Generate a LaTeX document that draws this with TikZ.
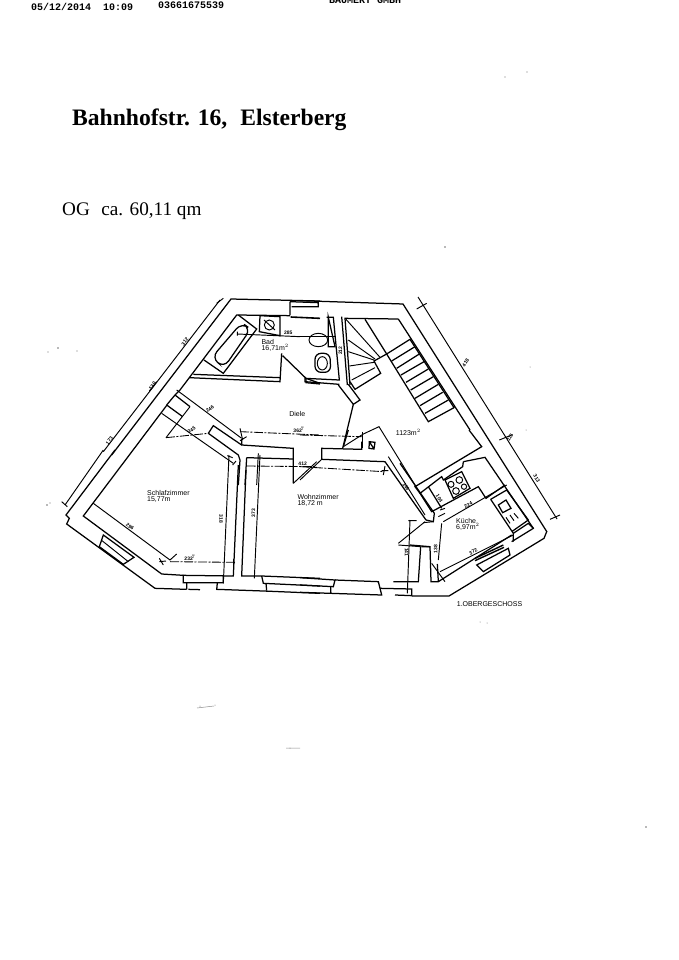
\documentclass[tikz,border=0pt]{standalone}
\usepackage{fontspec}
\setmainfont{Liberation Serif}
\setsansfont{Liberation Sans}
\setmonofont{Liberation Mono}
\tikzset{
 wall/.style={line width=1.25pt,line join=miter},
 thin line/.style={line width=0.95pt},
 dimline/.style={line width=0.85pt,dash pattern=on 9pt off 1.5pt on 2pt off 1.5pt},
 za/.style={shift={(60,285)},x=0.33333pt,y=-0.33333pt},
 zb/.style={shift={(300,285)},x=0.33333pt,y=-0.33333pt},
 zc/.style={shift={(60,450)},x=0.33333pt,y=-0.33333pt},
 zd/.style={shift={(300,450)},x=0.33333pt,y=-0.33333pt},
 ze/.style={shift={(400,430)},x=0.33333pt,y=-0.33333pt},
 zf/.style={shift={(150,385)},x=0.33333pt,y=-0.33333pt},
 zg/.style={shift={(300,430)},x=0.33333pt,y=-0.33333pt},
 lab/.style={inner sep=0pt,font=\sffamily\fontsize{7}{7.5}\selectfont,align=left},
 tiny/.style={inner sep=0pt,font=\sffamily\bfseries\fontsize{5}{5}\selectfont},
 hdr/.style={anchor=west,inner sep=0pt,font=\ttfamily\bfseries\fontsize{10}{11}\selectfont},
 speck/.style={fill=black!55,draw=none}
}
\begin{document}
\begin{tikzpicture}[x=1pt,y=-1pt]
\useasboundingbox (0,0) rectangle (679,960);
\clip (0,0) rectangle (679,960);
\fill[white] (0,0) rectangle (679,960);
% header and titles
\node[hdr] (hdate) at (31,7) {05/12/2014};
\node[hdr] (htime) at (103,7) {10:09};
\node[hdr] (hfax) at (158,5) {03661675539};
\node[hdr] (hfirm) at (329,0) {BAUMERT GMBH};
\node[anchor=base west,inner sep=0pt,font=\bfseries\fontsize{23.6}{26}\selectfont] (title) at (72,126) {Bahnhofstr. 16,\hspace{0.3em} Elsterberg};
\node[anchor=base west,inner sep=0pt,font=\fontsize{19.2}{24}\selectfont] (og) at (62,215) {OG\hspace{0.35em} ca. 60,11 qm};
% long outer walls and dimension lines on the right
\draw[wall] (403,304)--(547,532);
\draw[thin line] (418,297)--(557,519);
% ---------- Bad and upper left
\begin{scope}[za]
\draw[wall] (780,48) -- (513,42) -- (155,510);
\draw[thin line] (480,45) -- (130,500);
\draw[thin line] (470,55)--(490,40) (268,318)--(290,290);
\draw[wall] (690,50)--(690,90) (690,50)--(775,53)--(775,65)--(695,65);
\draw[line width=1.6pt] (692,96)--(780,100);
\draw[wall] (690,92)--(530,90)--(360,315)--(345,330);
\draw[wall] (535,90)--(590,132)--(490,265)--(432,225);
\draw[wall,rounded corners=8pt] (545,113)--(572,132)--(492,248)--(455,218)--cycle;
\draw[wall] (600,92)--(660,95)--(660,152)--(598,140)--cycle;
\draw[thin line] (628,120) circle[radius=15];
\draw[thin line] (612,105)--(645,135);
\draw[thin line] (532,140)--(532,152) (532,147)--(720,155);
\draw[wall] (400,268)--(660,278) (388,278)--(660,290)--(665,205) (668,212)--(738,280)--(780,295);
\draw[wall] (738,280)--(738,293)--(780,297);
\node[tiny,rotate=52] (t312) at (375,170) {312};
\node[tiny,rotate=52] (t130) at (277,303) {130};
\node[tiny,rotate=52] (t173) at (148,467) {173};
\node[tiny] (t285) at (685,142) {285};
\node[lab,anchor=north west] (bad) at (604,163) {Bad\\[-1.5pt]16,71m$^2$};
\node[lab] (diele) at (712,387) {Diele};
\end{scope}
% ---------- walls around Diele / Schlafzimmer door
\begin{scope}[zf]
\draw[thin line] (80,15)--(275,160);
\draw[thin line] (270,130)--(278,165) (270,167)--(290,155);
\draw[wall] (275,162)--(275,180)--(430,190)--(430,295);
\draw[wall] (75,30)--(120,65) (50,60)--(98,95) (50,60)--(75,30);
\draw[thin line] (120,65)--(48,158);
\draw[dimline] (48,158)--(175,145);
\draw[wall] (175,145)--(190,122)--(275,180);
\draw[wall] (175,145)--(265,210)--(270,225)--(265,300);
\draw[thin line] (35,85)--(250,235);
\draw[thin line] (232,212)--(248,218) (248,240)--(258,228);
\draw[dimline] (270,140)--(510,150);
\draw[wall] (290,218)--(430,222) (290,218)--(285,300);
\draw[thin line] (325,205)--(320,300);
\draw[dimline] (290,243)--(500,245);
\draw[thin line] (500,230)--(430,295);
\node[tiny,rotate=35] (t246) at (180,72) {246};
\node[tiny,rotate=30] (t245) at (125,135) {245};
\node[tiny] (t362) at (447,136) {362$^{\!\scriptscriptstyle 7}$};
\node[tiny] (t412) at (458,237) {412};
\end{scope}
% ---------- stairs and WC
\begin{scope}[zb]
\draw[wall] (0,47)--(310,57);
\draw[thin line] (350,72)--(380,55) (598,465)--(635,450);
\draw[wall] (295,102)--(135,100)--(150,300);
\draw[wall] (295,102)--(510,435);
\draw[wall] (125,95)--(142,300);
\draw[wall] (80,97)--(100,97)--(118,285)--(15,280)--(15,290)--(118,298);
\draw[wall] (115,300)--(160,358)--(180,345)--(145,298);
\draw[wall] (160,358)--(128,490);
\draw[wall] (195,103)--(260,207)--(385,410)--(462,368)--(330,163)--(260,207);
\draw[wall] (275,228)--(345,185) (290,250)--(358,207) (303,270)--(372,230) (318,292)--(385,252) (332,315)--(400,275) (345,340)--(415,298) (360,362)--(428,322) (375,385)--(445,345);
\draw[thin line] (138,103)--(240,217) (145,165)--(225,222) (145,200)--(222,225) (148,243)--(222,232) (155,285)--(225,248);
\draw[wall] (260,207)--(222,228)--(242,265)--(165,313)--(150,290);
\draw[wall] (85,97)--(105,185)--(85,185)--cycle;
\draw[thin line] (0,155)--(105,155);
\draw[thin line] (55,165) ellipse[x radius=28,y radius=20];
\draw[wall,rounded corners=6pt] (45,205)--(90,205)--(92,262)--(45,262)--cycle;
\draw[thin line] (67,235) ellipse[x radius=15,y radius=20];
\draw[dimline] (0,450)--(185,455);
\draw[wall] (208,470)--(225,472)--(222,492)--(207,490)--cycle (208,470)--(222,492);
\node[tiny,rotate=58] (t418) at (497,233) {418};
\node[tiny,rotate=58] (t115) at (630,457) {115};
\node[tiny,rotate=90] (t212) at (121,197) {212};
\node[lab] (a1123) at (325,441) {1123m$^2$};
\end{scope}
% ---------- Schlafzimmer
\begin{scope}[zc]
\draw[wall] (165,0)--(18,195)--(28,205)--(20,222)--(285,415)--(380,418);
\draw[thin line] (130,0)--(15,165) (5,155)--(22,170);
\draw[wall] (321,-135)--(70,198)--(305,372)--(370,376);
\draw[thin line] (100,160)--(330,330)--(350,312);
\draw[thin line] (298,325)--(310,345) (298,335)--(318,333);
\draw[dimline] (330,335)--(525,337);
\draw[thin line] (520,327)--(520,347);
\draw[thin line] (507,15)--(490,400);
\draw[wall] (535,45)--(520,378)--(370,376)--(370,398)--(490,398)--(490,378);
\draw[wall] (380,398)--(380,418) (472,398)--(470,420);
\draw[wall] (385,418)--(420,419) (470,418)--(610,423)--(780,430);
\draw[wall] (130,255)--(222,322)--(190,343)--(118,290)--cycle;
\draw[thin line] (126,272)--(205,335);
\draw[wall] (558,60)--(545,378)--(605,378)--(780,385);
\draw[thin line] (583,385)--(600,15);
\draw[wall] (605,378)--(610,400)--(780,408) (618,400)--(620,422);
\node[tiny,rotate=-90] (t318) at (483,207) {318};
\node[tiny,rotate=90] (t373) at (580,190) {373};
\node[tiny,rotate=-38] (t296) at (210,230) {296};
\node[tiny] (t232) at (390,325) {232$^{\!\scriptscriptstyle 7}$};
\node[lab,anchor=north west] (schl) at (261,122) {Schlafzimmer\\[-1.5pt]15,77m};
\node[lab,anchor=north west] (wohn) at (712,134) {Wohnzimmer\\[-1.5pt]18,72 m};
\end{scope}
% ---------- Wohnzimmer right side and door
\begin{scope}[zg]
\draw[wall] (130,50)--(145,0);
\draw[wall] (185,35)--(185,58)--(65,55)--(65,88)--(255,95)--(378,270);
\draw[thin line] (130,50)--(190,12)--(237,-10)--(348,170);
\draw[thin line] (188,5)--(188,55);
\draw[dimline] (0,110)--(250,125);
\draw[thin line] (255,108)--(250,135) (245,122)--(265,122);
\draw[thin line] (0,150)--(65,88);
\draw[thin line] (265,80)--(375,255);
\draw[thin line] (295,340)--(375,275) (295,345)--(362,350);
\draw[wall] (330,345)--(390,350);
\draw[wall] (362,350)--(355,455)--(280,455);
\draw[thin line] (330,270)--(322,490) (325,272)--(350,272);
\draw[wall] (0,443)--(105,450)--(100,470)--(0,465);
\draw[wall] (92,470)--(92,490)--(245,495)--(235,455)--(105,450);
\draw[wall] (0,487)--(92,490);
\draw[wall] (240,475)--(335,477)--(335,497)--(285,495);
\node[tiny,rotate=-58] (t146) at (318,170) {146};
\node[tiny,rotate=-90] (t141) at (320,367) {141};
\end{scope}
% ---------- Küche
\begin{scope}[ze]
\draw[wall] (207,0)--(245,50)--(45,170)--(60,190);
\draw[wall] (190,95)--(255,82)--(400,295)--(335,335);
\draw[wall] (190,95)--(188,110)--(130,150)--(125,140)--(60,190)--(95,245)--(235,170)--(258,205)--(315,165);
\draw[wall] (85,170)--(125,235);
\draw[wall] (135,150)--(185,125)--(210,175)--(160,205)--cycle;
\draw[thin line] (153,163) circle[radius=9] (178,150) circle[radius=10] (168,183) circle[radius=10] (192,170) circle[radius=8];
\draw[thin line] (130,275)--(320,165) (120,240)--(135,235) (115,260)--(135,250);
\draw[wall] (272,208)--(320,180)--(385,270)--(335,305) (272,208)--(340,310)--(340,335);
\draw[wall] (340,310)--(385,280)--(400,295);
\draw[wall] (295,225)--(318,210)--(333,235)--(308,248)--cycle;
\draw[thin line] (318,262)--(330,280) (330,255)--(342,272) (342,250)--(355,265);
\draw[wall] (78,270)--(100,275)--(103,250)--(0,100);
\draw[thin line] (70,278)--(100,275);
\draw[thin line] (125,280)--(115,390);
\draw[thin line] (450,268)--(480,255);
\draw[wall] (440,305)--(432,325)--(147,498)--(36,498);
\node[tiny,rotate=-58] (t313) at (410,145) {313};
\node[tiny,rotate=-58] (t104) at (118,205) {104};
\node[tiny,rotate=28] (t224) at (205,225) {224};
\node[lab,anchor=north west] (kue) at (168,266) {Küche\\[-1.5pt]6,97m$^2$};
\end{scope}
% ---------- Küche lower part
\begin{scope}[zd]
\draw[wall] (635,255)--(415,395)--(393,395)--(390,290)--(365,290);
\draw[wall] (415,395)--(412,342);
\draw[thin line] (395,340)--(435,395);
\draw[thin line] (420,365)--(640,255);
\draw[line width=1.4pt] (525,325)--(610,285) (525,332)--(612,292);
\draw[wall] (530,345)--(625,295)--(630,315)--(550,365)--cycle;
\node[tiny,rotate=90] (t138) at (407,297) {138};
\node[tiny,rotate=28] (t372) at (520,305) {372};
\node[lab,anchor=west] (ober) at (470,463) {1.OBERGESCHOSS};
\end{scope}
% scanner specks
\foreach \p/\r in {{48,352}/.6,{58,348}/.9,{77,351}/.7,{47,505}/.9,{50,503}/.7,{445,247}/.8,{527,72}/.6,{505,77}/.6,{646,827}/.9,{200,706}/.5,{215,705}/.5,{290,748}/.5,{480,622}/.5,{487,623}/.5,{530,367}/.5,{526,430}/.5}
  \fill[speck] (\p) circle[radius=\r];
\draw[black!45,line width=.5pt] (197,708)--(214,706) (286,748)--(300,748);
\end{tikzpicture}
\end{document}
